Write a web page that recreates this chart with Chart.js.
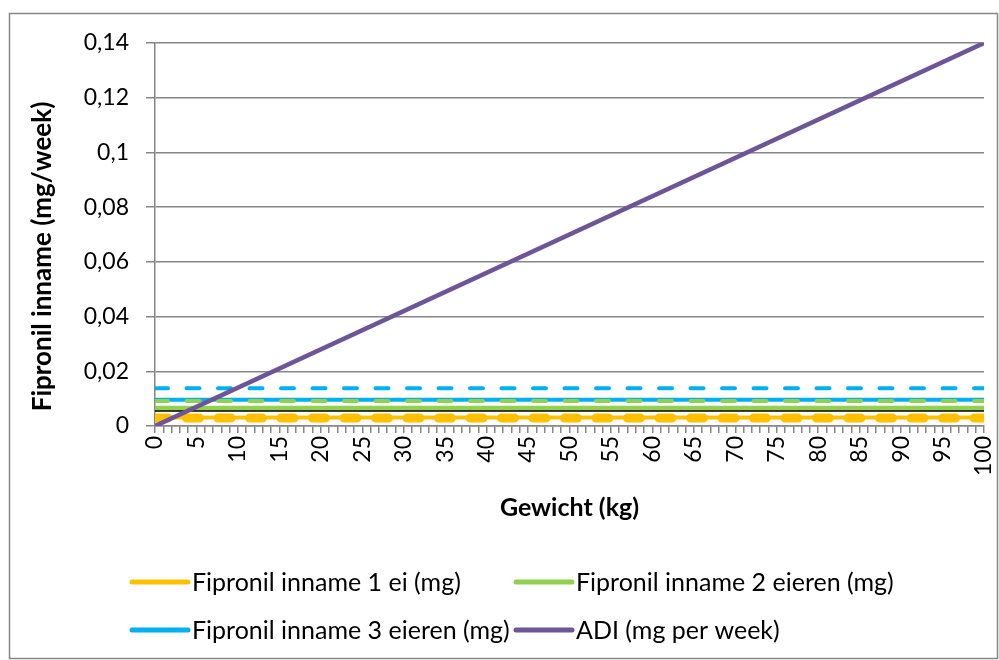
<!DOCTYPE html>
<html>
<head>
<meta charset="utf-8">
<script src="https://cdn.jsdelivr.net/npm/chart.js@4/dist/chart.umd.min.js"></script>
<style>
  html, body { margin: 0; padding: 0; background: #ffffff; }
  #wrap { width: 999px; height: 660px; position: relative; }
</style>
</head>
<body>
<div id="wrap"><canvas id="chart" width="999" height="660"></canvas></div>
<script>
// Lichaamsgewicht (kg): begin- en eindpunt van elke lijn
const gewichtKg = [0, 100];

// Fipronil-inname per week (mg)
const inname1Ei = [0.0031, 0.0031];
const inname2Eieren = [0.0065, 0.0065];
const inname3Eieren = [0.0096, 0.0096];
const inname1EiHoog = [0.0029, 0.0029];
const inname2EierenHoog = [0.0091, 0.0091];
const inname3EierenHoog = [0.0138, 0.0138];
const referentie = [0.0055, 0.0055];

// Aanvaardbare dagelijkse inname omgerekend naar week (mg)
const adiPerWeek = [0, 0.14];

// As-labels
const yTickLabels = ['0', '0,02', '0,04', '0,06', '0,08', '0,1', '0,12', '0,14'];
const xLabelInterval = 5;
const yAsTitel = 'Fipronil inname (mg/week)';

const FONT = 'Lato, "Open Sans", sans-serif';
const GRID = '#868686';

function punten(waarden) {
  return gewichtKg.map((x, i) => ({ x: x, y: waarden[i] }));
}

// Kader rond de hele grafiek
const kader = {
  id: 'kader',
  beforeDraw(chart) {
    const ctx = chart.ctx;
    ctx.save();
    ctx.fillStyle = '#ffffff';
    ctx.fillRect(0, 0, chart.width, chart.height);
    ctx.strokeStyle = GRID;
    ctx.lineWidth = 1.5;
    ctx.strokeRect(9.5, 13.5, 988, 645);
    ctx.restore();
  }
};

// Verticale astitel, iets onder het midden van de y-as geplaatst
const yTitel = {
  id: 'yTitel',
  afterDraw(chart) {
    const ctx = chart.ctx;
    const y = chart.scales.y;
    ctx.save();
    ctx.translate(43, (y.top + y.bottom) / 2 + 22);
    ctx.rotate(-Math.PI / 2);
    ctx.font = 'bold 26px ' + FONT;
    ctx.fillStyle = '#000000';
    ctx.textAlign = 'center';
    ctx.textBaseline = 'middle';
    ctx.fillText(yAsTitel, 0, 0);
    ctx.restore();
  }
};

// Legenda in twee kolommen
const legenda = {
  id: 'legenda',
  afterDraw(chart) {
    const ctx = chart.ctx;
    const items = chart.data.datasets.filter(d => d.inLegenda);
    const kolomX = [132, 516];
    const rijY = [582, 630];
    ctx.save();
    ctx.font = '25px ' + FONT;
    ctx.textBaseline = 'middle';
    ctx.textAlign = 'left';
    items.forEach((d, i) => {
      const x = kolomX[i % 2];
      const y = rijY[Math.floor(i / 2)];
      ctx.strokeStyle = d.borderColor;
      ctx.lineWidth = 5;
      ctx.lineCap = 'round';
      ctx.beginPath();
      ctx.moveTo(x, y);
      ctx.lineTo(x + 56, y);
      ctx.stroke();
      ctx.fillStyle = '#000000';
      ctx.fillText(d.label, x + 60, y + 1);
    });
    ctx.restore();
  }
};

const lijn = (label, waarden, kleur, breedte, extra) => Object.assign({
  label: label,
  data: punten(waarden),
  borderColor: kleur,
  backgroundColor: kleur,
  borderWidth: breedte,
  pointRadius: 0,
  tension: 0,
  fill: false
}, extra || {});

new Chart(document.getElementById('chart'), {
  type: 'line',
  data: {
    datasets: [
      lijn('Fipronil inname 1 ei (mg)', inname1Ei, '#FFC000', 4, { inLegenda: true, order: 9 }),
      lijn('Fipronil inname 2 eieren (mg)', inname2Eieren, '#92D050', 5, { inLegenda: true, order: 8 }),
      lijn('Fipronil inname 3 eieren (mg)', inname3Eieren, '#00B0F0', 4, { inLegenda: true, order: 7 }),
      lijn('ADI (mg per week)', adiPerWeek, '#6E5597', 4.5, { inLegenda: true, order: 0 }),
      lijn('Referentie', referentie, '#000000', 1.5, { order: 6 }),
      lijn('Fipronil inname 1 ei (hoog)', inname1EiHoog, '#FFC000', 9,
        { order: 3, borderDash: [13, 18.5], borderCapStyle: 'round' }),
      lijn('Fipronil inname 2 eieren (hoog)', inname2EierenHoog, '#92D050', 4,
        { order: 4, borderDash: [13, 18.5], borderCapStyle: 'round' }),
      lijn('Fipronil inname 3 eieren (hoog)', inname3EierenHoog, '#00B0F0', 4,
        { order: 5, borderDash: [13, 18.5], borderCapStyle: 'round' })
    ]
  },
  options: {
    responsive: false,
    animation: false,
    events: [],
    layout: { padding: { left: 10, right: 15, top: 43, bottom: 134 } },
    plugins: {
      legend: { display: false },
      tooltip: { enabled: false },
      title: { display: false }
    },
    scales: {
      x: {
        type: 'linear',
        min: 0,
        max: 100,
        afterFit(scale) {
          scale.height = 100;
          scale.paddingLeft = 0;
          scale.paddingRight = 0;
        },
        grid: {
          drawOnChartArea: false,
          drawTicks: true,
          tickLength: 7,
          color: GRID,
          lineWidth: 1.5
        },
        border: { display: true, color: GRID, width: 1.5 },
        ticks: {
          stepSize: 1,
          autoSkip: false,
          minRotation: 90,
          maxRotation: 90,
          padding: 3,
          color: '#000000',
          font: { family: FONT, size: 23 },
          callback: (v) => (v % xLabelInterval === 0 ? String(v) : '')
        },
        title: {
          display: true,
          text: 'Gewicht (kg)',
          color: '#000000',
          font: { family: FONT, size: 25, weight: 'bold' },
          padding: { top: 0, bottom: 3 }
        }
      },
      y: {
        min: 0,
        max: 0.14,
        afterFit(scale) { scale.width = 145; },
        grid: {
          drawOnChartArea: true,
          drawTicks: true,
          tickLength: 9,
          color: GRID,
          lineWidth: 1.5
        },
        border: { display: true, color: GRID, width: 1.5 },
        ticks: {
          stepSize: 0.02,
          padding: 17,
          color: '#000000',
          font: { family: FONT, size: 23 },
          callback: (v, i) => yTickLabels[i]
        },
        title: { display: false }
      }
    }
  },
  plugins: [kader, yTitel, legenda]
});
</script>
</body>
</html>
